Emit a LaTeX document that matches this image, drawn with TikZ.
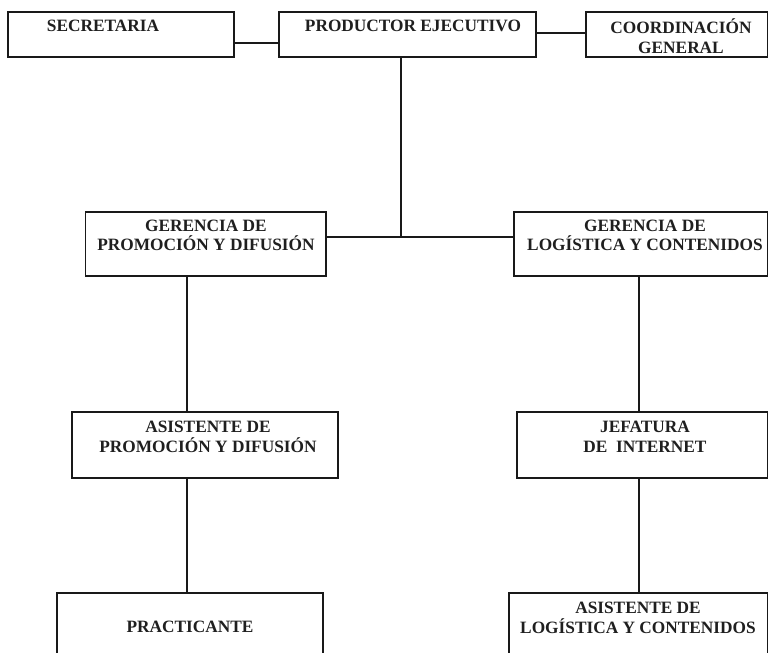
\documentclass[tikz,border=0pt]{standalone}
\usepackage{fontspec}
\setmainfont{Liberation Serif}
\begin{document}
\begin{tikzpicture}[x=1pt,y=-1pt,
  box/.style={draw=black!90, line width=1.3pt, rectangle, inner sep=0pt, outer sep=0pt},
  lbl/.style={align=center, inner sep=0pt, text=black!88, font=\bfseries\fontsize{17.3}{19.5}\selectfont},
  conn/.style={draw=black!90, line width=1.3pt}]
\useasboundingbox (0,0) rectangle (769,653);
% boxes
\node[box, minimum width=226, minimum height=45] (sec) at (121,34.5) {};
\node[box, minimum width=257, minimum height=45] (prod) at (407.5,34.5) {};
\node[box, minimum width=181.5, minimum height=45] (coord) at (676.75,34.5) {};
\node[box, minimum width=240.5, minimum height=64] (gp) at (205.75,244) {};
\node[box, minimum width=253.5, minimum height=64] (gl) at (640.75,244) {};
\node[box, minimum width=266, minimum height=66] (ap) at (205,445) {};
\node[box, minimum width=250.5, minimum height=66] (jf) at (642.25,445) {};
\node[box, minimum width=266, minimum height=77] (pr) at (190,631.5) {};
\node[box, minimum width=258.5, minimum height=77] (al) at (638.25,631.5) {};
% texts
\node[lbl] (sec-t) at (103,26) {SECRETARIA};
\node[lbl] (prod-t) at (413,26) {PRODUCTOR EJECUTIVO};
\node[lbl] (coord-t) at (681,36) {COORDINACIÓN\\GENERAL};
\node[lbl] (gp-t) at (206,235.5) {GERENCIA DE\\PROMOCIÓN Y DIFUSIÓN};
\node[lbl] (gl-t) at (645,235.5) {GERENCIA DE\\LOGÍSTICA Y CONTENIDOS};
\node[lbl] (ap-t) at (208,437) {ASISTENTE DE\\PROMOCIÓN Y DIFUSIÓN};
\node[lbl] (jf-t) at (645,437) {JEFATURA\\DE\ \ INTERNET};
\node[lbl] (pr-t) at (190,627) {PRACTICANTE};
\node[lbl] (al-t) at (638,618) {ASISTENTE DE\\LOGÍSTICA Y CONTENIDOS};
% connectors
\coordinate (j) at (401,237);
\coordinate (cl) at (187,0);
\coordinate (cr) at (639,0);
\draw[conn] ([yshift=-8.5pt]sec.east) -- ([yshift=-8.5pt]prod.west);
\draw[conn] ([yshift=1.5pt]prod.east) -- ([yshift=1.5pt]coord.west);
\draw[conn] (prod.south -| j) -- (j);
\draw[conn] ([yshift=7pt]gp.east) -- ([yshift=7pt]gl.west);
\draw[conn] (gp.south -| cl) -- (ap.north -| cl);
\draw[conn] (ap.south -| cl) -- (pr.north -| cl);
\draw[conn] (gl.south -| cr) -- (jf.north -| cr);
\draw[conn] (jf.south -| cr) -- (al.north -| cr);
\end{tikzpicture}
\end{document}
